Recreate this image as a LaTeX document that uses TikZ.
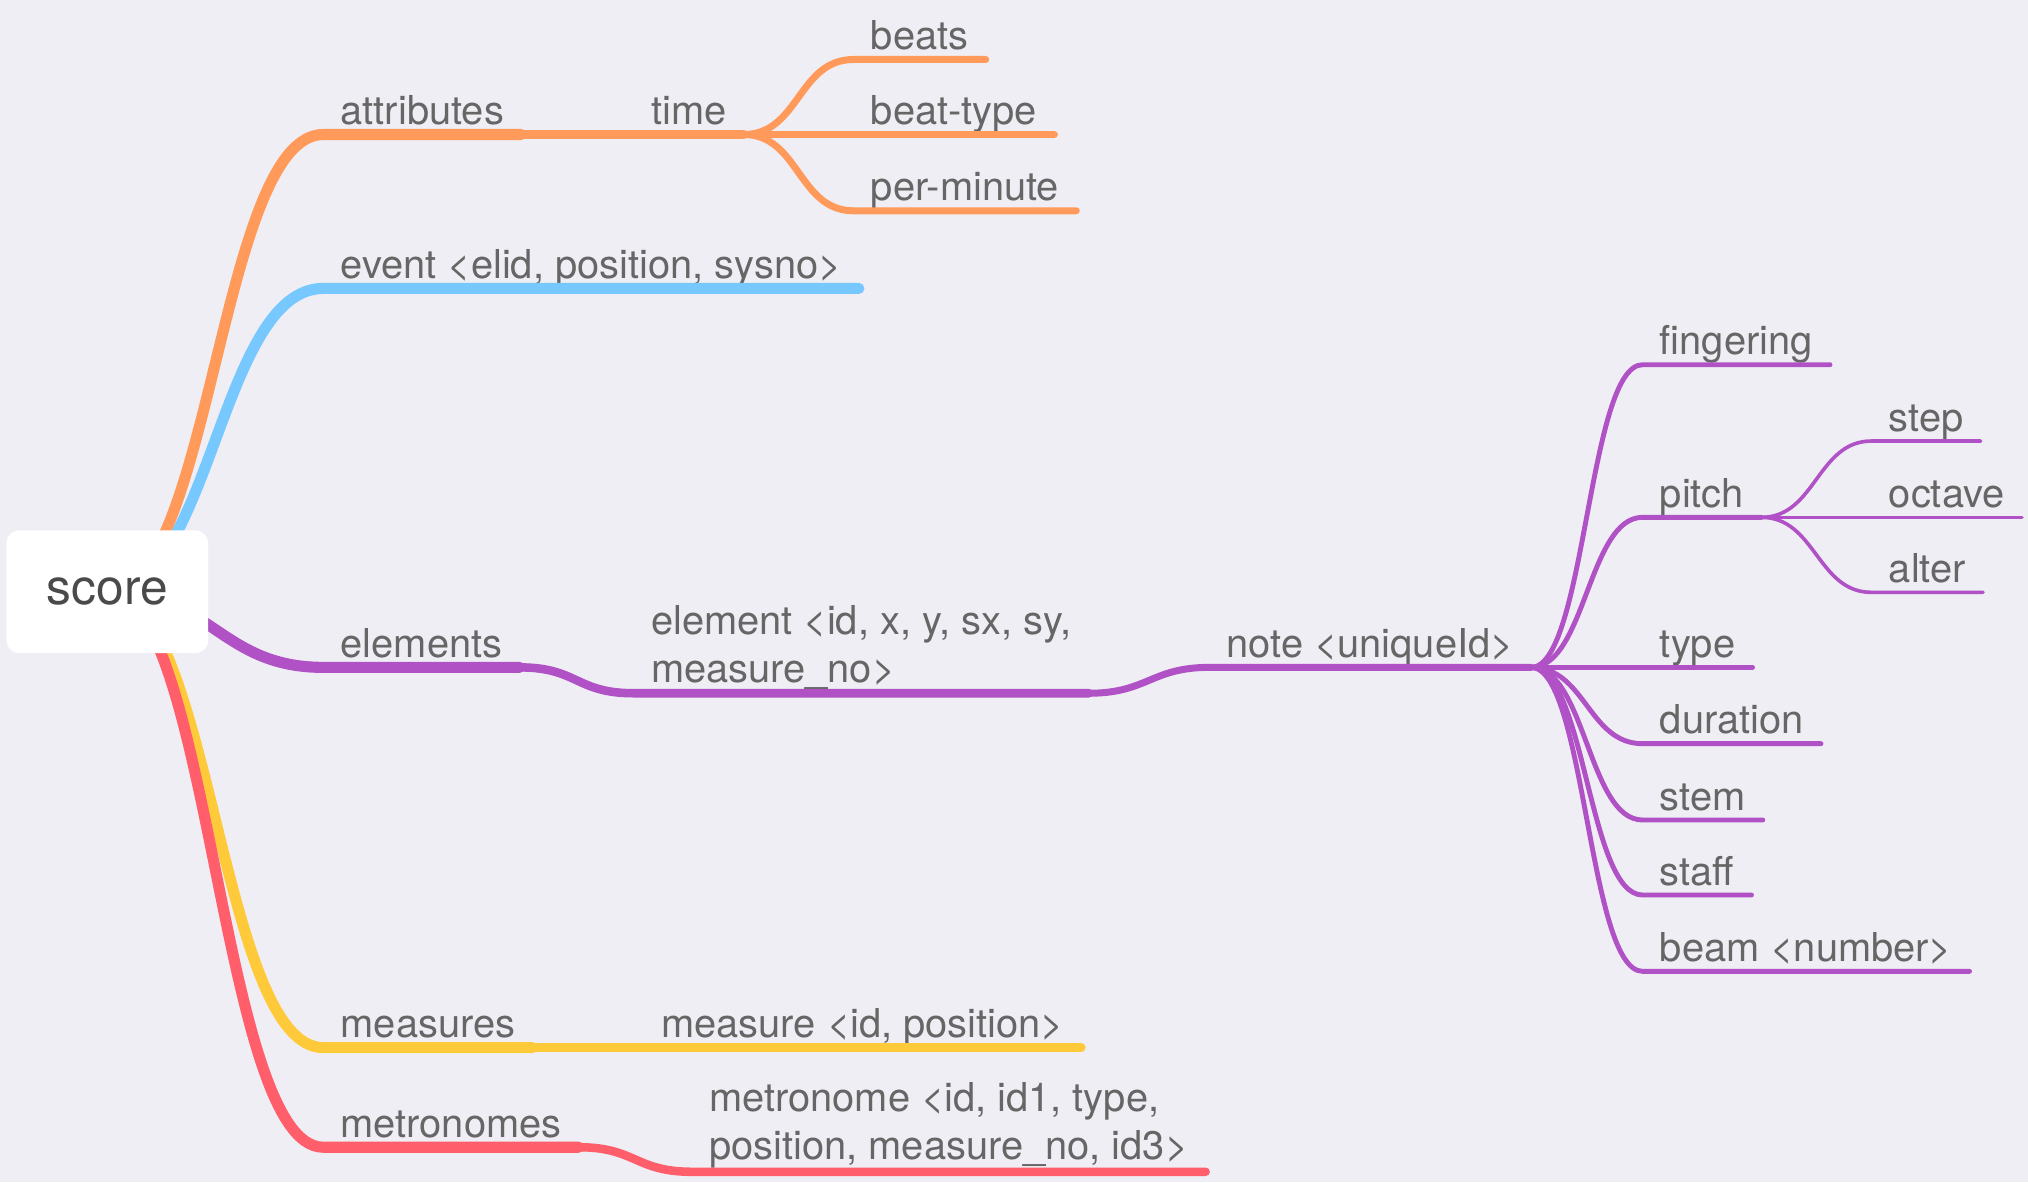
\documentclass[tikz,border=0pt]{standalone}
\usepackage{fontspec}
\setmainfont{TeX Gyre Heros}
\usepackage{tikz}

\definecolor{bgcol}{HTML}{EFEEF4}
\definecolor{txtgray}{HTML}{666666}
\definecolor{rootgray}{HTML}{4A4A4A}
\definecolor{cattr}{HTML}{FF9A5B}
\definecolor{cevent}{HTML}{76C8FE}
\definecolor{celem}{HTML}{B052C6}
\definecolor{cmeas}{HTML}{FFCA3A}
\definecolor{cmetro}{HTML}{FF5E6A}

\begin{document}
\begin{tikzpicture}[x=0.5pt,y=-0.5pt,
    lbl/.style={anchor=south west, inner xsep=6.5pt, text=txtgray, font=\fontsize{15.4}{18.5}\selectfont},
    topic/.style={lbl, inner ysep=3.6pt, text depth=0pt},
    topictwo/.style={lbl, inner ysep=1.3pt, align=left},
    rootbox/.style={fill=white, rounded corners=5pt, minimum width=78pt, minimum height=47.5pt, text=rootgray, font=\fontsize{19.2}{23}\selectfont},
    lvone/.style={line width=4.3pt, line cap=round},
    lvtwo/.style={line width=3.3pt, line cap=round},
    lvthree/.style={line width=2.7pt, line cap=round},
    lvfour/.style={line width=1.9pt, line cap=round},
    lvfive/.style={line width=1.4pt, line cap=round}]

      % Background
      \fill[bgcol] (0,0) rectangle (1568,914);
      \useasboundingbox (0,0) rectangle (1568,914);
      \coordinate (rootc) at (83,457.5);

      % Text Node
      \node[topic] (attr) at (250,104) {attributes};
      \node[topic] (time) at (490,104) {time};
      \node[topic] (beats) at (660,46) {beats};
      \node[topic] (btype) at (660,104) {beat-type};
      \node[topic] (permin) at (660,163) {per-minute};
      % Text Node
      \node[topic] (event) at (250,223) {event <elid, position, sysno>};
      % Text Node
      \node[topic] (elems) at (250,516) {elements};
      \node[topictwo] (elem) at (490,536) {element <id, x, y, sx, sy,\\measure\_no>};
      \node[topic] (note) at (935,516) {note <uniqueId>};
      \node[topic] (fing) at (1270,282) {fingering};
      \node[topic] (pitch) at (1270,400) {pitch};
      \node[topic] (pstep) at (1447,341) {step};
      \node[topic] (poct) at (1447,400) {octave};
      \node[topic] (palt) at (1447,458) {alter};
      \node[topic] (ntype) at (1270,516) {type};
      \node[topic] (dur) at (1270,575) {duration};
      \node[topic] (nstem) at (1270,634) {stem};
      \node[topic] (staff) at (1270,692) {staff};
      \node[topic] (beam) at (1270,751) {beam <number>};
      % Text Node
      \node[topic] (meass) at (250,810) {measures};
      \node[topic] (meas) at (498,810) {measure <id, position>};
      % Text Node
      \node[topic] (metros) at (250,887) {metronomes};
      \node[topictwo] (metro) at (535,906) {metronome <id, id1, type,\\position, measure\_no, id3>};

      % Branches from root
      \draw[lvone, cattr] (rootc) .. controls +(80,0) and +(-80,0) .. (attr.south west) -- (attr.south east);
      \draw[lvone, cevent] (rootc) .. controls +(80,0) and +(-80,0) .. (event.south west) -- (event.south east);
      \draw[lvone, celem] (rootc) .. controls +(80,0) and +(-80,0) .. (elems.south west) -- (elems.south east);
      \draw[lvone, cmeas] (rootc) .. controls +(80,0) and +(-80,0) .. (meass.south west) -- (meass.south east);
      \draw[lvone, cmetro] (rootc) .. controls +(80,0) and +(-80,0) .. (metros.south west) -- (metros.south east);

      % attributes
      \draw[lvtwo, cattr] (attr.south east) -- (time.south west) -- (time.south east);
      \draw[lvthree, cattr] (time.south east) .. controls +(43,0) and +(-43,0) .. (beats.south west) -- (beats.south east);
      \draw[lvthree, cattr] (time.south east) -- (btype.south west) -- (btype.south east);
      \draw[lvthree, cattr] (time.south east) .. controls +(43,0) and +(-43,0) .. (permin.south west) -- (permin.south east);

      % elements
      \draw[lvtwo, celem] (elems.south east) .. controls +(45,0) and +(-45,0) .. (elem.south west) -- (elem.south east);
      \draw[lvthree, celem] (elem.south east) .. controls +(45,0) and +(-45,0) .. (note.south west) -- (note.south east);
      \foreach \n in {fing,pitch,ntype,dur,nstem,staff,beam}
        \draw[lvfour, celem] (note.south east) .. controls +(42,0) and +(-42,0) .. (\n.south west) -- (\n.south east);
      \foreach \n in {pstep,poct,palt}
        \draw[lvfive, celem] (pitch.south east) .. controls +(42,0) and +(-42,0) .. (\n.south west) -- (\n.south east);

      % measures
      \draw[lvtwo, cmeas] (meass.south east) -- (meas.south west) -- (meas.south east);

      % metronomes
      \draw[lvtwo, cmetro] (metros.south east) .. controls +(44,0) and +(-44,0) .. (metro.south west) -- (metro.south east);

      % Root
      \node[rootbox] (score) at (rootc) {score};
\end{tikzpicture}
\end{document}
